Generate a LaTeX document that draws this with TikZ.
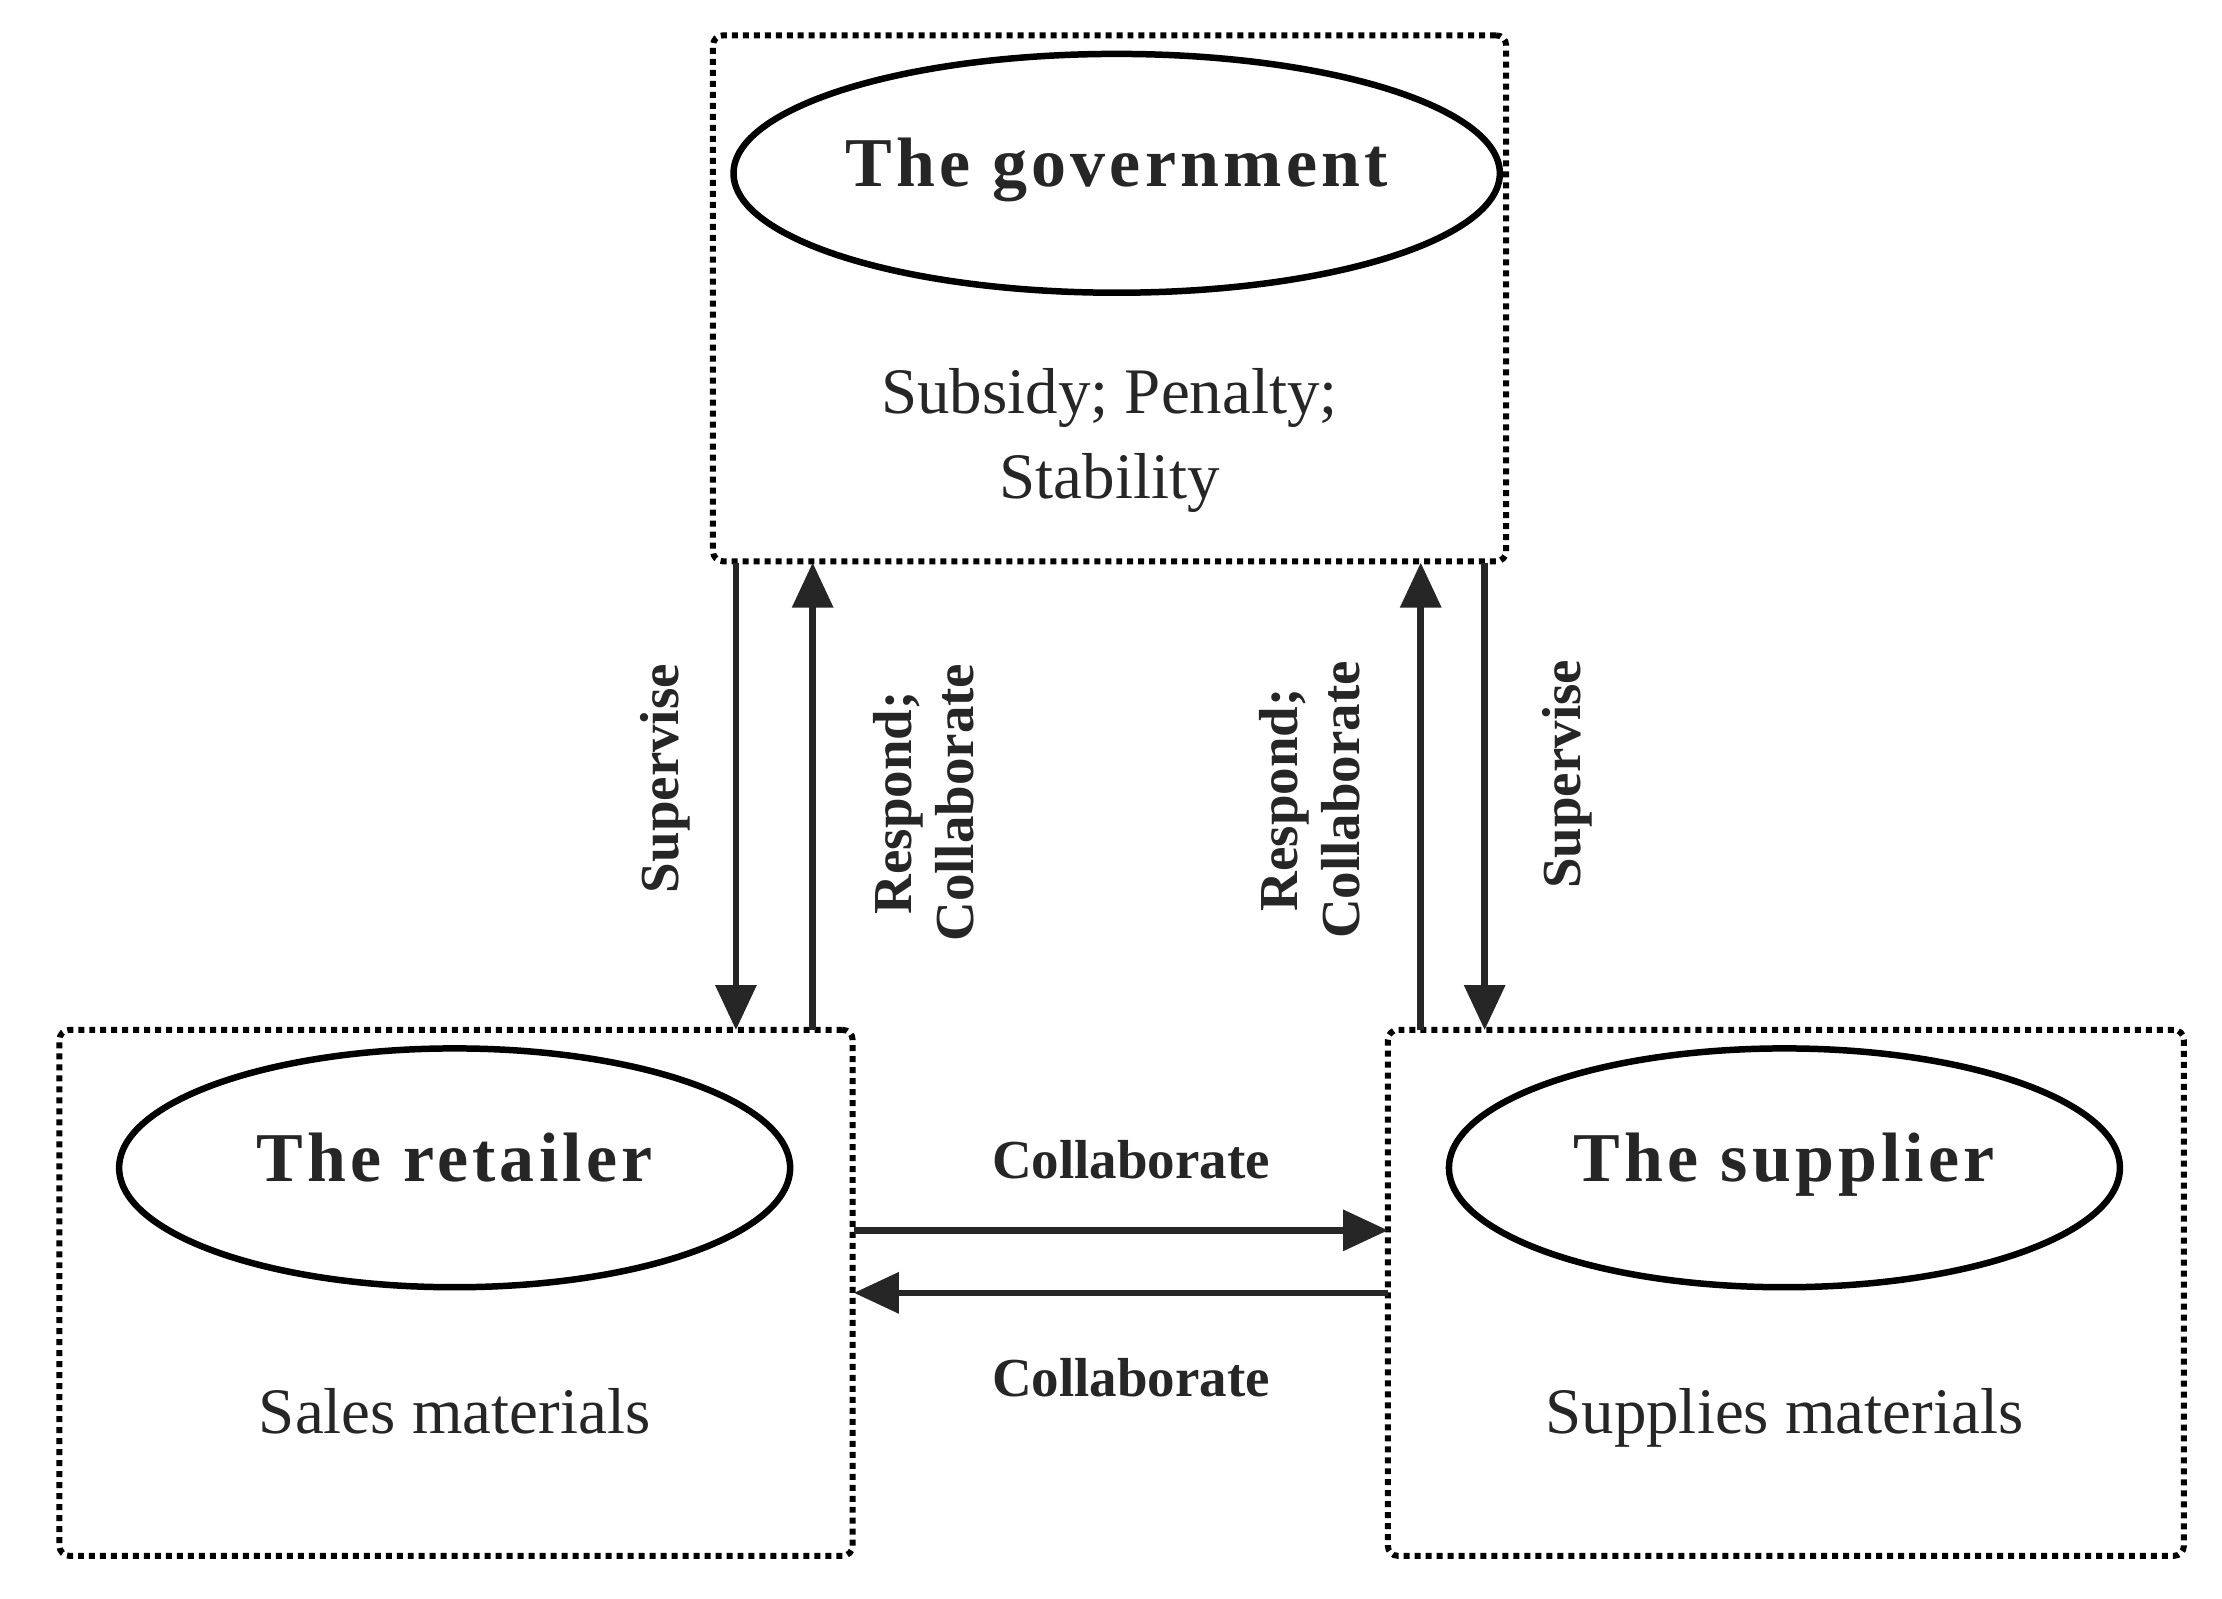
\documentclass[tikz,border=0pt]{standalone}
\usepackage{fontspec}
\setmainfont{Liberation Serif}
\usetikzlibrary{arrows.meta,shapes.geometric}
\begin{document}
\begin{tikzpicture}[x=0.01cm,y=-0.01cm,
  box/.style={draw,densely dotted,line width=1.2pt,rounded corners=2pt,inner sep=0pt},
  ell/.style={draw,ellipse,line width=1.3pt,inner sep=0pt,minimum width=4.72cm,minimum height=1.68cm,text height=1.6ex,text depth=0.45ex,font=\fontsize{14}{16}\selectfont\bfseries\addfontfeatures{LetterSpace=6}},
  arr/.style={line width=1.3pt,-{Triangle[length=9pt,width=8pt]},draw=black!85},
  lab/.style={font=\fontsize{13}{17}\selectfont,align=center,text=black!85},
  slab/.style={lab,text height=1.6ex,text depth=0.45ex},
  blab/.style={font=\fontsize{11}{12.5}\selectfont\bfseries,align=center,text=black!85}]
\useasboundingbox (0,0) rectangle (1564,1125);
\node[box,minimum width=5.58cm,minimum height=3.7cm] (gov) at (781,210) {};
\node[box,minimum width=5.58cm,minimum height=3.7cm] (ret) at (321,910) {};
\node[box,minimum width=5.60cm,minimum height=3.7cm] (sup) at (1257,910) {};
\node[ell,text=black!85] (ge) at (786,122) {The government};
\node[ell,text=black!85] (re) at (320,822) {The retailer};
\node[ell,text=black!85] (se) at (1256,822) {The supplier};
\node[lab] (gt) at (781,310) {Subsidy; Penalty;\\Stability};
\node[slab] (rt) at (320,1000) {Sales materials};
\node[slab] (st) at (1256,1000) {Supplies materials};
\coordinate (a1) at (518,396); \coordinate (b1) at (518,725);
\coordinate (a2) at (572,725); \coordinate (b2) at (572,396);
\coordinate (a3) at (1000,725); \coordinate (b3) at (1000,396);
\coordinate (a4) at (1045,396); \coordinate (b4) at (1045,725);
\coordinate (h1) at (601,866); \coordinate (h2) at (977,866);
\coordinate (h3) at (977,910); \coordinate (h4) at (601,910);
\draw[arr] (a1) -- (b1);
\draw[arr] (a2) -- (b2);
\draw[arr] (a3) -- (b3);
\draw[arr] (a4) -- (b4);
\draw[arr] (h1) -- (h2);
\draw[arr] (h3) -- (h4);
\node[blab,rotate=90] (l1) at (468,548) {Supervise};
\node[blab,rotate=90] (l2) at (650,565) {Respond;\\Collaborate};
\node[blab,rotate=90] (l3) at (922,563) {Respond;\\Collaborate};
\node[blab,rotate=90] (l4) at (1103,545) {Supervise};
\node[blab] (l5) at (796,816) {Collaborate};
\node[blab] (l6) at (796,970) {Collaborate};
\end{tikzpicture}
\end{document}
